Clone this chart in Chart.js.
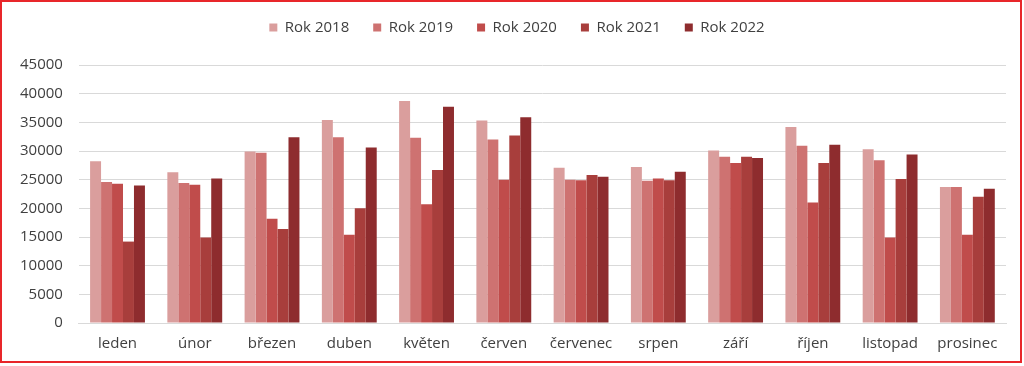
<!DOCTYPE html>
<html>
<head>
<meta charset="utf-8">
<script src="https://cdn.jsdelivr.net/npm/chart.js@4"></script>
<style>
  html, body { margin: 0; padding: 0; background: #fff; overflow: hidden; }
  #wrap { position: relative; width: 1024px; height: 366px; overflow: hidden; }
  #frame { position: absolute; left: 0; top: 0; width: 1018px; height: 359px; border: 2px solid #e8262a; pointer-events: none; }
  canvas { position: absolute; left: 0; top: -4px; }
</style>
</head>
<body>
<div id="wrap">
  <canvas id="chart" width="1024" height="370"></canvas>
  <div id="frame"></div>
</div>
<script>
const months = ["leden", "únor", "březen", "duben", "květen", "červen",
  "červenec", "srpen", "září", "říjen", "listopad", "prosinec"];
const years = ["Rok 2018", "Rok 2019", "Rok 2020", "Rok 2021", "Rok 2022"];
const COLORS = ["rgb(218, 158, 157)", "rgb(206, 114, 113)", "rgb(192, 76, 75)",
  "rgb(168, 62, 60)", "rgb(142, 44, 46)"];

const rok2018 = [28200, 26300, 29900, 35400, 38700, 35300, 27100, 27200, 30100, 34200, 30300, 23700];
const rok2019 = [24600, 24400, 29700, 32400, 32300, 32000, 25000, 24800, 29000, 30900, 28400, 23700];
const rok2020 = [24300, 24100, 18200, 15400, 20700, 25000, 24900, 25200, 27900, 21000, 14900, 15400];
const rok2021 = [14200, 14900, 16400, 20000, 26700, 32700, 25800, 24900, 29000, 27900, 25100, 22000];
const rok2022 = [24000, 25200, 32400, 30600, 37700, 35900, 25500, 26400, 28800, 31100, 29400, 23400];
const series = [rok2018, rok2019, rok2020, rok2021, rok2022];

const FONT = "'Open Sans', 'Liberation Sans', sans-serif";
const TEXT = "#404040";

// extra room under the legend, and nudge it right to sit where the original does
const legendTweak = {
  id: "legendTweak",
  beforeInit(chart) {
    const fit = chart.legend.fit;
    chart.legend.fit = function () {
      fit.bind(chart.legend)();
      this.height += 20;
    };
  },
  afterLayout(chart) {
    chart.legend.left += 12;
    chart.legend.right += 12;
  },
};

new Chart(document.getElementById("chart"), {
  type: "bar",
  data: {
    labels: months,
    datasets: series.map((values, i) => ({
      label: years[i],
      data: values,
      backgroundColor: COLORS[i],
      borderWidth: 0,
      categoryPercentage: 0.71,
      barPercentage: 1.0,
    })),
  },
  options: {
    responsive: false,
    animation: false,
    layout: { padding: { left: 4, right: 18, top: 0, bottom: 1 } },
    plugins: {
      tooltip: { enabled: false },
      legend: {
        position: "top",
        labels: {
          boxWidth: 8,
          boxHeight: 8,
          padding: 24,
          color: TEXT,
          font: { family: FONT, size: 15 },
        },
      },
    },
    scales: {
      x: {
        grid: { display: false, drawTicks: false },
        border: { color: "#d9d9d9", width: 1 },
        ticks: { color: TEXT, font: { family: FONT, size: 15 }, padding: 12 },
      },
      y: {
        min: 0,
        max: 45000,
        grid: { color: "#d9d9d9", drawTicks: false },
        border: { display: false },
        ticks: {
          stepSize: 5000,
          color: TEXT,
          font: { family: FONT, size: 15 },
          padding: 16,
          callback: (v) => String(v),
        },
      },
    },
  },
  plugins: [legendTweak],
});
</script>
</body>
</html>
